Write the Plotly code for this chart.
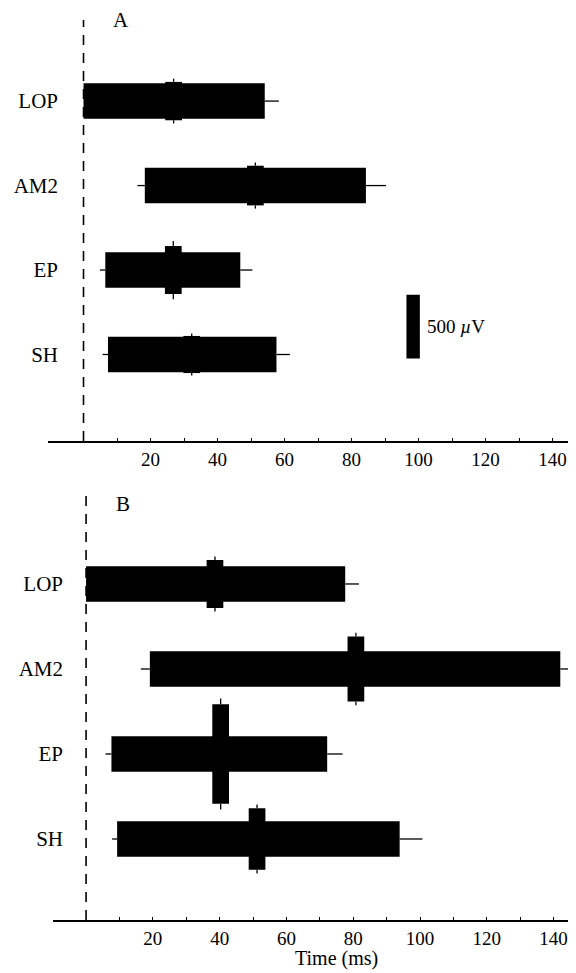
import plotly.graph_objects as go

# ---------------- data ----------------
regions = ["LOP", "AM2", "EP", "SH"]          # top to bottom
rows = [3, 2, 1, 0]

# Panel A
onset_A = [0.0, 18.3, 6.5, 7.3]
onset_err_A = [0.0, 2.2, 1.6, 1.6]
offset_A = [54.1, 84.3, 46.8, 57.6]
offset_err_A = [4.2, 6.0, 3.6, 4.0]
peak_A = [26.9, 51.3, 26.8, 32.3]
amp_A = [300, 310, 375, 290]          # µV
amp_err_A = [25, 25, 40, 20]

# Panel B
onset_B = [0.0, 19.1, 7.6, 9.3]
onset_err_B = [0.0, 2.7, 1.8, 1.5]
offset_B = [77.6, 142.0, 72.2, 93.9]
offset_err_B = [4.1, 8.0, 4.6, 6.8]
peak_B = [38.6, 80.8, 40.3, 51.2]
amp_B = [375, 508, 776, 482]
amp_err_B = [27, 30, 45, 28]

# calibration bar
scale_uv = 500
scale_x = 98.4
scale_y = 0.33

tick_vals = list(range(10, 150, 10))
tick_text = [str(v) if v % 20 == 0 else "" for v in tick_vals]

# ---------------- styling constants ----------------
W, H = 576, 973
UV = 64.0 / 500 / 84.5        # y-units per µV
BAR_H = 0.42
PEAK_W = 5.0
FONT = "Liberation Serif"
K = "black"

fig = go.Figure()


def panel(xa, ya, onset, onset_err, offset, offset_err, peak, amp, amp_err, uv):
    xr, yr = xa.replace("axis", ""), ya.replace("axis", "")
    fig.add_trace(go.Bar(
        orientation="h", y=rows, x=[b - a for a, b in zip(onset, offset)], base=onset,
        width=BAR_H, marker=dict(color=K, line=dict(width=0)),
        xaxis=xr, yaxis=yr, showlegend=False, hoverinfo="skip"))
    hts = [a * uv for a in amp]
    fig.add_trace(go.Bar(
        orientation="v", x=peak, y=hts, base=[r - h / 2 for r, h in zip(rows, hts)],
        width=PEAK_W, marker=dict(color=K, line=dict(width=0)),
        xaxis=xr, yaxis=yr, showlegend=False, hoverinfo="skip"))
    zeros = [0] * len(rows)
    err_style = dict(type="data", symmetric=False, width=0, thickness=1.3, color=K)
    fig.add_trace(go.Scatter(
        x=offset, y=rows, mode="markers", marker=dict(size=1, opacity=0),
        error_x=dict(array=offset_err, arrayminus=zeros, **err_style),
        xaxis=xr, yaxis=yr, showlegend=False, hoverinfo="skip"))
    fig.add_trace(go.Scatter(
        x=onset, y=rows, mode="markers", marker=dict(size=1, opacity=0),
        error_x=dict(array=zeros, arrayminus=onset_err, **err_style),
        xaxis=xr, yaxis=yr, showlegend=False, hoverinfo="skip"))
    fig.add_trace(go.Scatter(
        x=peak, y=[r + h / 2 for r, h in zip(rows, hts)], mode="markers",
        marker=dict(size=1, opacity=0),
        error_y=dict(array=[e * uv for e in amp_err], arrayminus=zeros, **err_style),
        xaxis=xr, yaxis=yr, showlegend=False, hoverinfo="skip"))
    fig.add_trace(go.Scatter(
        x=peak, y=[r - h / 2 for r, h in zip(rows, hts)], mode="markers",
        marker=dict(size=1, opacity=0),
        error_y=dict(array=zeros, arrayminus=[e * uv for e in amp_err], **err_style),
        xaxis=xr, yaxis=yr, showlegend=False, hoverinfo="skip"))
    # dashed stimulus line at t = 0
    fig.add_shape(type="line", xref=xr, yref=yr + " domain", x0=0, x1=0, y0=0, y1=1,
                  line=dict(color=K, width=1.6, dash="10px,8px"))


panel("xaxis", "yaxis", onset_A, onset_err_A, offset_A, offset_err_A, peak_A, amp_A,
      amp_err_A, UV)
panel("xaxis2", "yaxis2", onset_B, onset_err_B, offset_B, offset_err_B, peak_B, amp_B,
      amp_err_B, 64.0 / 500 / 85.0)

# calibration bar (panel A)
fig.add_trace(go.Bar(
    orientation="v", x=[scale_x], y=[scale_uv * UV], base=[scale_y - scale_uv * UV / 2],
    width=4.0, marker=dict(color=K, line=dict(width=0)),
    xaxis="x", yaxis="y", showlegend=False, hoverinfo="skip"))
fig.add_annotation(x=scale_x + 3.5, y=scale_y, xref="x", yref="y", xanchor="left",
                   yanchor="middle", showarrow=False,
                   text=f"{scale_uv} <i>µ</i>V", font=dict(family=FONT, size=19, color=K))

# panel letters
fig.add_annotation(x=11.2, y=1.0, xref="x", yref="y domain", text="A", showarrow=False,
                   xanchor="center", yanchor="middle", font=dict(family=FONT, size=21, color=K))
fig.add_annotation(x=11.2, y=0.98, xref="x2", yref="y2 domain", text="B", showarrow=False,
                   xanchor="center", yanchor="middle", font=dict(family=FONT, size=21, color=K))

# x title
fig.add_annotation(x=75, y=(H - 950) / H, xref="x2", yref="paper", text="Time (ms)",
                   showarrow=False, xanchor="center", yanchor="middle",
                   font=dict(family=FONT, size=20, color=K))

xcommon = dict(tickmode="array", tickvals=tick_vals, ticktext=tick_text, ticks="inside",
               ticklen=3, tickwidth=1.2, tickcolor=K, showline=True, linecolor=K,
               linewidth=1.6, showgrid=False, zeroline=False,
               tickfont=dict(family=FONT, size=19, color=K))
ycommon = dict(tickmode="array", tickvals=rows, ticktext=regions, ticks="", showline=False,
               showgrid=False, zeroline=False, ticklabelstandoff=-11,
               tickfont=dict(family=FONT, size=21, color=K))

fig.update_layout(
    width=W, height=H, margin=dict(l=0, r=0, t=0, b=0),
    paper_bgcolor="white", plot_bgcolor="white", barmode="overlay",
    xaxis=dict(domain=[40 / W, 1], range=[-10.6, 149.4], anchor="y", **xcommon),
    yaxis=dict(domain=[1 - 433 / H, 1 - 12 / H], range=[-1.024, 3.96], anchor="x", **ycommon),
    xaxis2=dict(domain=[45 / W, 1], range=[-9.9, 149.1], anchor="y2", **xcommon),
    yaxis2=dict(domain=[1 - 912 / H, 1 - 488 / H], range=[-0.953, 4.035], anchor="x2", **ycommon),
)

fig.write_html("out.html")
